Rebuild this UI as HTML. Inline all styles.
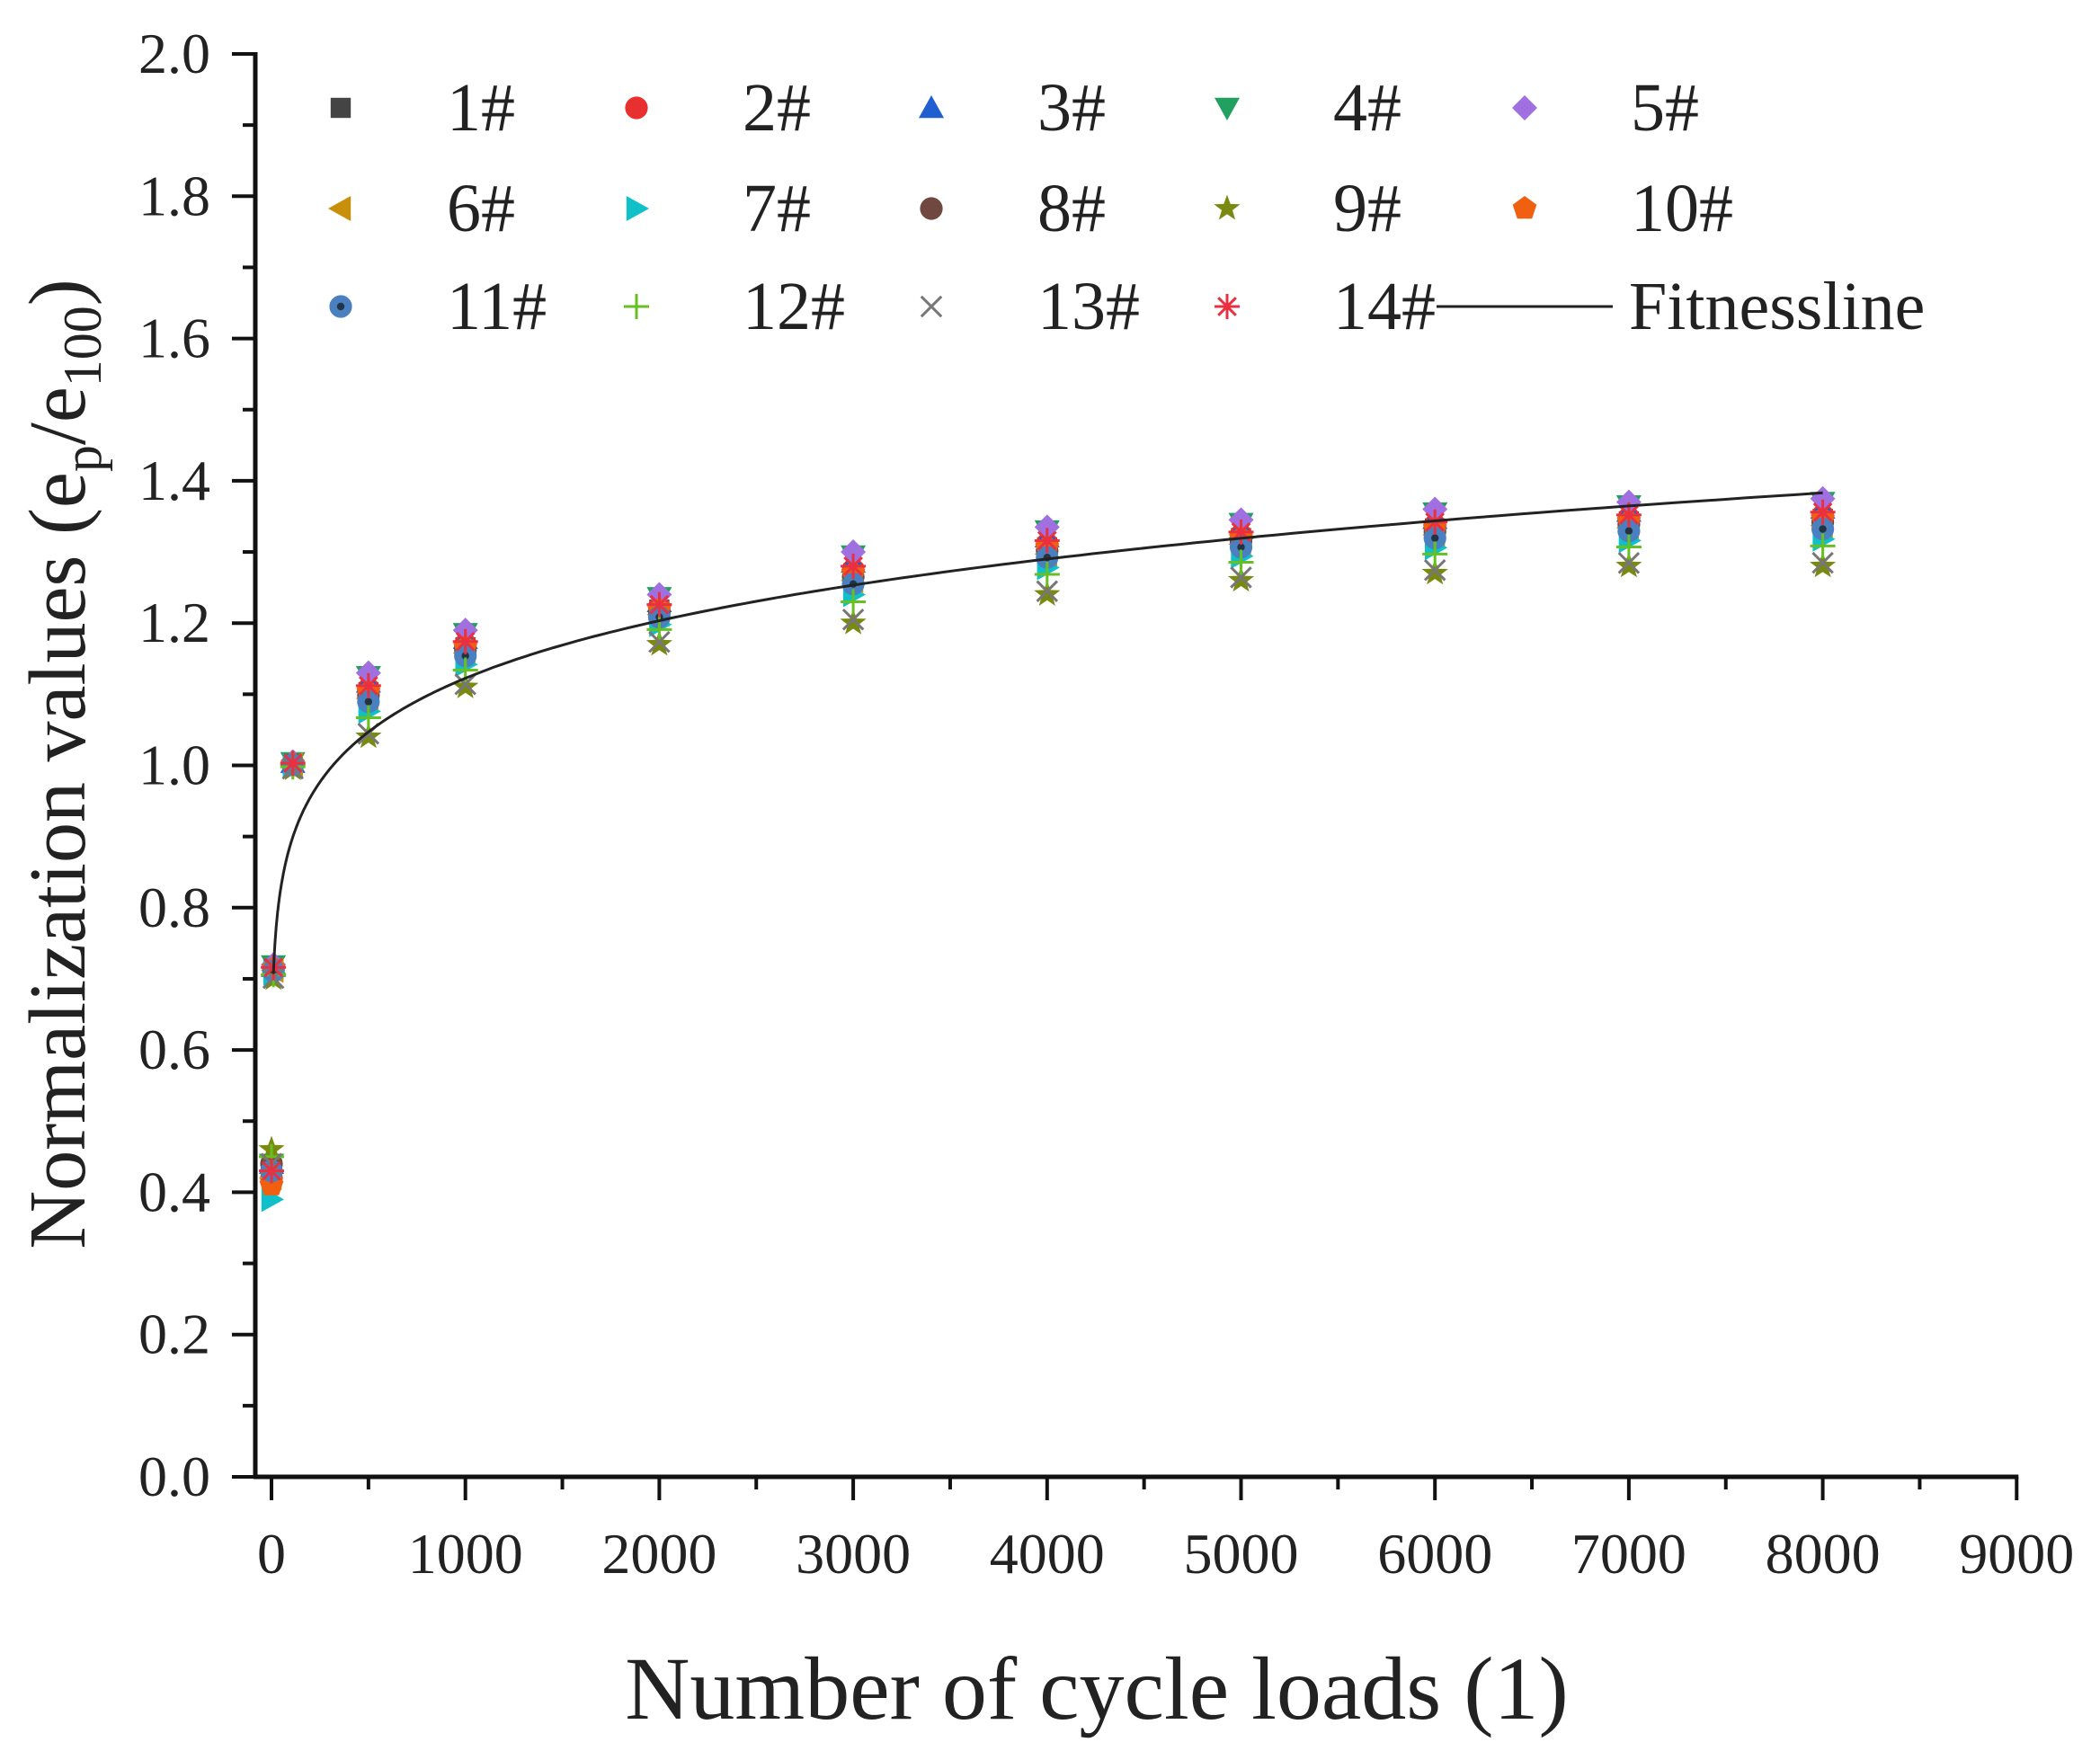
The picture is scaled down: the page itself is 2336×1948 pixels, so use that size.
<!DOCTYPE html>
<html><head><meta charset="utf-8"><style>
html,body{margin:0;padding:0;background:#fff;}
svg{display:block;}
text{font-family:"Liberation Serif",serif;fill:#222;}
</style></head><body>
<svg id="s" width="2336" height="1948" viewBox="0 0 2336 1948" xmlns="http://www.w3.org/2000/svg"></svg>
<script>
const X0=302,KX=0.2157,Y0=1643,KY=791.5;
const px=x=>X0+x*KX, py=y=>Y0-y*KY;
let h='';
h+=`<line x1="284" y1="58" x2="284" y2="1645" stroke="#111" stroke-width="5"/>`;
h+=`<line x1="282" y1="1643" x2="${px(9000)+2}" y2="1643" stroke="#111" stroke-width="5"/>`;
for(let i=0;i<=20;i++){let y=py(i*0.1);let L=i%2==0?26:14;h+=`<line x1="${284-L}" y1="${y}" x2="284" y2="${y}" stroke="#111" stroke-width="4"/>`;
 if(i%2==0)h+=`<text x="234" y="${y+21}" font-size="64" text-anchor="end">${(i/10).toFixed(1)}</text>`;}
for(let i=0;i<=18;i++){let x=px(i*500);let L=i%2==0?26:14;h+=`<line x1="${x}" y1="1643" x2="${x}" y2="${1643+L}" stroke="#111" stroke-width="4"/>`;
 if(i%2==0)h+=`<text x="${x}" y="1750" font-size="64" text-anchor="middle">${i*500}</text>`;}
h+=`<text x="1220" y="1912" font-size="100" text-anchor="middle">Number of cycle loads (1)</text>`;
h+=`<text transform="translate(94,850) rotate(-90)" font-size="90" text-anchor="middle">Normalization values (e<tspan font-size="60" dy="18">p</tspan><tspan dy="-18">/e</tspan><tspan font-size="60" dy="18">100</tspan><tspan dy="-18">)</tspan></text>`;
const cols=['#444','#e83030','#1f5fd0','#22a060','#a070e0','#c8900a','#10c0c8','#704840','#7a8a10','#f06010','#4a80c0','#66c020','#777','#e83040'];
function mk(i,x,y,s){const c=cols[i];s=s||14;
 switch(i){
 case 0:return `<rect x="${x-s*.8}" y="${y-s*.8}" width="${s*1.6}" height="${s*1.6}" fill="${c}"/>`;
 case 1:case 7:return `<circle cx="${x}" cy="${y}" r="${s*.9}" fill="${c}"/>`;
 case 2:return `<polygon points="${x},${y-s} ${x+s},${y+s*.8} ${x-s},${y+s*.8}" fill="${c}"/>`;
 case 3:return `<polygon points="${x},${y+s} ${x+s},${y-s*.8} ${x-s},${y-s*.8}" fill="${c}"/>`;
 case 4:return `<polygon points="${x},${y-s} ${x+s},${y} ${x},${y+s} ${x-s},${y}" fill="${c}"/>`;
 case 5:return `<polygon points="${x-s},${y} ${x+s*.8},${y-s} ${x+s*.8},${y+s}" fill="${c}"/>`;
 case 6:return `<polygon points="${x+s},${y} ${x-s*.8},${y-s} ${x-s*.8},${y+s}" fill="${c}"/>`;
 case 8:{let p=[];for(let k=0;k<10;k++){let r=k%2?s*.45:s*1.1,a=-Math.PI/2+k*Math.PI/5;p.push((x+r*Math.cos(a)).toFixed(1)+','+(y+r*Math.sin(a)).toFixed(1));}return `<polygon points="${p.join(' ')}" fill="${c}"/>`;}
 case 9:{let p=[];for(let k=0;k<5;k++){let a=-Math.PI/2+k*2*Math.PI/5;p.push((x+s*Math.cos(a)).toFixed(1)+','+(y+s*Math.sin(a)).toFixed(1));}return `<polygon points="${p.join(' ')}" fill="${c}"/>`;}
 case 10:return `<circle cx="${x}" cy="${y}" r="${s*.9}" fill="${c}"/><circle cx="${x}" cy="${y}" r="${s*.3}" fill="#234"/>`;
 case 11:return `<path d="M${x-s} ${y}H${x+s}M${x} ${y-s}V${y+s}" stroke="${c}" stroke-width="3"/>`;
 case 12:return `<path d="M${x-s*.8} ${y-s*.8}L${x+s*.8} ${y+s*.8}M${x+s*.8} ${y-s*.8}L${x-s*.8} ${y+s*.8}" stroke="${c}" stroke-width="3"/>`;
 case 13:return `<path d="M${x-s} ${y}H${x+s}M${x} ${y-s}V${y+s}M${x-s*.7} ${y-s*.7}L${x+s*.7} ${y+s*.7}M${x+s*.7} ${y-s*.7}L${x-s*.7} ${y+s*.7}" stroke="${c}" stroke-width="3"/>`;
 }}
const t=[.7,.75,.85,.95,1,.6,.4,.65,0,.7,.55,.3,.05,.8];
const grp=[[0,.39,.46],[10,.70,.72],[100,.995,1.005],[500,1.04,1.13],[1000,1.11,1.19],[2000,1.17,1.24],[3000,1.20,1.30],[4000,1.24,1.335],[5000,1.26,1.345],[6000,1.27,1.36],[7000,1.28,1.37],[8000,1.28,1.375]];
let pts='';
grp.forEach(g=>{for(let i=0;i<14;i++){let v=g[1]+(g[2]-g[1])*t[i];if(g[0]==0){v=[.43,.42,.44,.44,.43,.42,.39,.44,.46,.41,.43,.45,.44,.43][i];}
 let x=px(g[0]);if(g[0]==100)x=px(110);pts+=mk(i,x,py(v));}});
let d='';for(let k=0;k<=400;k++){let x=10*Math.pow(800,k/400);let y=0.561*Math.pow(x,0.1004);d+=(k?'L':'M')+px(x).toFixed(1)+' '+py(y).toFixed(1);}
h+=pts+`<path d="${d}" fill="none" stroke="#222" stroke-width="3"/>`;
const lx=[379,708,1036,1365,1696],ly=[120,232,341];
for(let i=0;i<14;i++){let r=Math.floor(i/5),c=i%5;h+=mk(i,lx[c],ly[r],14);
 h+=`<text x="${lx[c]+118}" y="${ly[r]+25}" font-size="76">${i+1}#</text>`;}
h+=`<line x1="1598" y1="341" x2="1794" y2="341" stroke="#222" stroke-width="3"/>`;
h+=`<text x="1812" y="366" font-size="76">Fitnessline</text>`;
document.getElementById('s').innerHTML=h;
</script>
</body></html>
